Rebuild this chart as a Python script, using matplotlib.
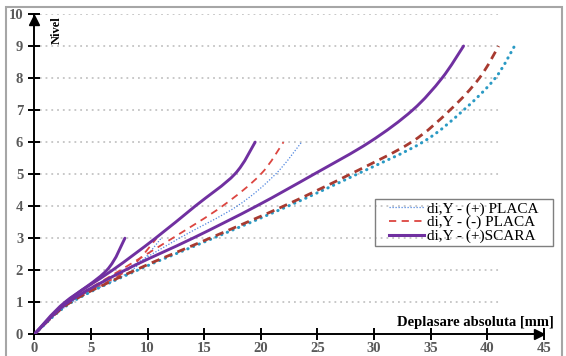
"""
Deplasari absolute pe nivel (PLACA / SCARA) - 3, 6 si 9 niveluri.
"""

import numpy as np
import matplotlib
matplotlib.use("Agg")
import matplotlib.pyplot as plt
from matplotlib.path import Path
from matplotlib.patches import PathPatch, Rectangle
from matplotlib.lines import Line2D

# Nivel (axa y)
levels_3 = [0, 1, 2, 3]
levels_6 = [0, 1, 2, 3, 4, 5, 6]
levels_9 = [0, 1, 2, 3, 4, 5, 6, 7, 8, 9]

# Deplasari absolute [mm]
placa_pos_3 = [0, 3.3, 8.6, 11.2]
placa_neg_3 = [0, 3.1, 8.2, 10.8]
scara_3 = [0, 2.8, 6.4, 8.0]

placa_pos_6 = [0, 3.2, 8.0, 12.8, 17.9, 21.3, 23.6]
placa_neg_6 = [0, 3.0, 7.6, 12.2, 16.6, 20.0, 22.0]
scara_6 = [0, 2.7, 6.9, 10.7, 14.2, 17.7, 19.5]

placa_pos_9 = [0, 3.3, 9.1, 15.8, 22.4, 28.5, 34.3, 37.9, 40.7, 42.4]
placa_neg_9 = [0, 3.2, 8.9, 15.5, 22.0, 27.9, 33.3, 36.7, 39.3, 41.0]
scara_9 = [0, 3.0, 8.0, 14.0, 19.6, 24.7, 29.6, 33.4, 36.0, 37.9]

legend_labels = ["di,Y - (+) PLACA", "di,Y - (-) PLACA", "di,Y - (+)SCARA"]
x_ticks = [0, 5, 10, 15, 20, 25, 30, 35, 40, 45]
y_ticks = [0, 1, 2, 3, 4, 5, 6, 7, 8, 9, 10]

SERIF = ["Liberation Serif", "DejaVu Serif"]
PURPLE = "#7030a0"


def smooth_path(xs, ys):
    # Excel-like smoothed line: Catmull-Rom segments as cubic Beziers
    p = np.column_stack([xs, ys]).astype(float)
    ext = np.vstack([p[0], p, p[-1]])
    verts = [tuple(p[0])]
    codes = [Path.MOVETO]
    for i in range(1, len(ext) - 2):
        c1 = ext[i] + (ext[i + 1] - ext[i - 1]) / 6.0
        c2 = ext[i + 1] - (ext[i + 2] - ext[i]) / 6.0
        verts += [tuple(c1), tuple(c2), tuple(ext[i + 1])]
        codes += [Path.CURVE4] * 3
    return Path(verts, codes)


def draw(ax, xs, ys, **kw):
    patch = PathPatch(smooth_path(xs, ys), fill=False, **kw)
    ax.add_patch(patch)


def main():
    fig = plt.figure(figsize=(5.66, 3.56), dpi=100)
    ax = fig.add_axes([0.0606, 0.061, 0.9005, 0.8997])
    ax.set_xlim(0, 45)
    ax.set_ylim(0, 10)

    # dotted horizontal grid, ends before the axis arrow
    ax.hlines(y_ticks[1:], 0, 41.3, colors="#c4c4c4", linestyles=(0, (1, 2.2)),
              linewidth=1.3, zorder=1)

    blue_thin = dict(edgecolor="#4f86e0", linewidth=0.9, linestyle=(0, (1, 1.4)))
    red_thin = dict(edgecolor="#dc4540", linewidth=1.3, linestyle=(0, (4, 3)))
    purple = dict(edgecolor=PURPLE, linewidth=2.1, capstyle="round")
    red_thick = dict(edgecolor="#a83a30", linewidth=2.0, linestyle=(0, (3, 2)))
    teal_thick = dict(edgecolor="#2a9ac4", linewidth=2.2, linestyle=(0, (0.1, 1.9)),
                      capstyle="round")

    draw(ax, placa_pos_3, levels_3, zorder=3, **blue_thin)
    draw(ax, placa_neg_3, levels_3, zorder=3, **red_thin)
    draw(ax, placa_pos_6, levels_6, zorder=3, **blue_thin)
    draw(ax, placa_neg_6, levels_6, zorder=3, **red_thin)
    draw(ax, placa_pos_9, levels_9, zorder=3, **teal_thick)
    draw(ax, placa_neg_9, levels_9, zorder=3, **red_thick)
    draw(ax, scara_3, levels_3, zorder=4, **purple)
    draw(ax, scara_6, levels_6, zorder=4, **purple)
    draw(ax, scara_9, levels_9, zorder=4, **purple)

    # axes with arrows
    for s in ("top", "right"):
        ax.spines[s].set_visible(False)
    for s in ("left", "bottom"):
        ax.spines[s].set_linewidth(1.4)
        ax.spines[s].set_color("black")
    ax.plot([0], [9.82], marker="^", color="black", markersize=7, clip_on=False, zorder=5)
    ax.plot([44.6], [0], marker=">", color="black", markersize=7, clip_on=False, zorder=5)

    ax.set_xticks(x_ticks)
    ax.set_yticks(y_ticks)
    ax.tick_params(direction="inout", length=8, width=1.4, color="black",
                   labelcolor="#595959", labelsize=10.5)
    for lab in ax.get_xticklabels() + ax.get_yticklabels():
        lab.set_family(SERIF)
        lab.set_fontweight("bold")
    ax.tick_params(axis="x", pad=1.5)
    ax.tick_params(axis="y", pad=4)

    ax.text(0.045, 0.95, "Nivel", transform=ax.transAxes, rotation=90,
            ha="center", va="center", family=SERIF, fontweight="bold", fontsize=9)
    ax.text(1.02, 0.036, "Deplasare absoluta [mm]", transform=ax.transAxes,
            ha="right", va="center", family=SERIF, fontweight="bold", fontsize=10.5)

    # legend: frame drawn separately so it can be wider than its content
    ax.add_patch(Rectangle((0.668, 0.277), 0.349, 0.144, transform=ax.transAxes,
                           fill=False, edgecolor="#7f7f7f", linewidth=1.0,
                           clip_on=False, zorder=6))
    handles = [
        Line2D([], [], color="#4f86e0", linewidth=0.9, linestyle=(0, (1, 1.4))),
        Line2D([], [], color="#dc4540", linewidth=1.3, linestyle=(0, (4, 3))),
        Line2D([], [], color=PURPLE, linewidth=2.2),
    ]
    leg = ax.legend(handles, legend_labels, loc="center",
                    bbox_to_anchor=(0.8425, 0.349), borderaxespad=0,
                    prop={"family": SERIF, "size": 11}, handlelength=2.3,
                    handletextpad=0.2, labelspacing=0.0, borderpad=0.0,
                    frameon=False)
    leg.set_zorder(7)

    # gray chart border (bottom edge falls outside the picture)
    fig.patches.append(Rectangle((6 / 566, -0.02), 556 / 566, 1.02 - 7 / 356,
                                 transform=fig.transFigure, fill=False,
                                 edgecolor="#a6a6a6", linewidth=1.5))

    fig.savefig("out.png", dpi=100)
    plt.close(fig)


if __name__ == "__main__":
    main()
